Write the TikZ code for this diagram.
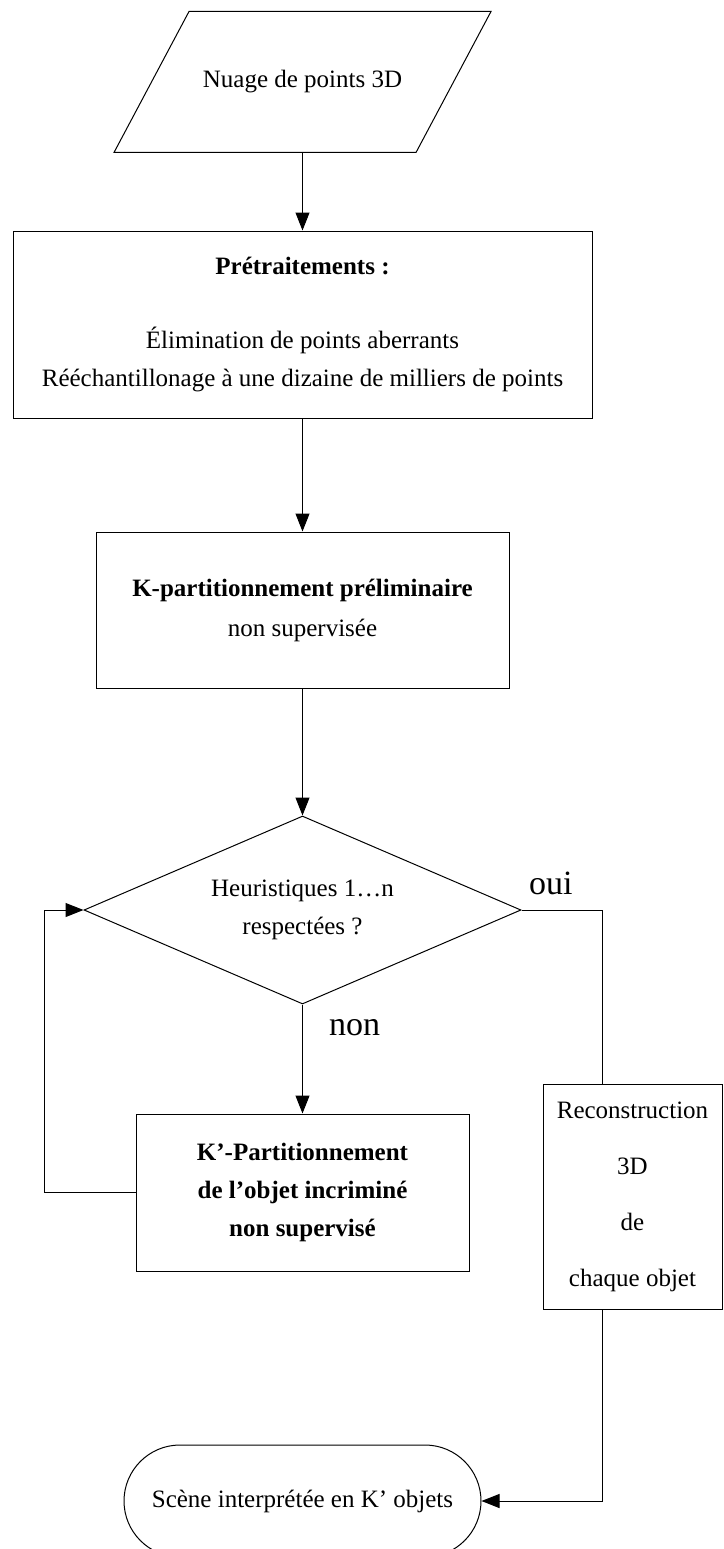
\documentclass[tikz,border=0pt]{standalone}
\usepackage{fontspec}
\setmainfont{Liberation Serif}
\usepackage{tikz}
\usetikzlibrary{shapes.geometric, arrows.meta, positioning, calc}

\begin{document}
\begin{tikzpicture}[
    line width=1pt,
    every node/.style={font=\fontsize{25pt}{38pt}\selectfont, inner sep=0pt},
    boite/.style={rectangle, draw, align=center},
    entree/.style={rectangle, minimum width=301pt, minimum height=140pt},
    test/.style={diamond, draw, align=center, aspect=2.32, minimum width=437pt, minimum height=188pt},
    terminal/.style={rectangle, draw, rounded corners=56pt, minimum width=357pt, minimum height=112pt},
    etiquette/.style={font=\fontsize{34pt}{40pt}\selectfont},
    fleche/.style={-{Triangle[width=14pt,length=18pt]}}
]
\useasboundingbox[fill=white] (0,0) rectangle (723pt,-1549pt);

\node[entree] (nuage) at (302.5pt,-82pt) {Nuage de points 3D};
% parallelogram round the input node
\draw ([xshift=37.5pt]nuage.north west) -- ([xshift=37.5pt]nuage.north east)
   -- ([xshift=-37.5pt]nuage.south east) -- ([xshift=-37.5pt]nuage.south west) -- cycle;
\node[boite, minimum width=579pt, minimum height=187pt, below=78pt of nuage] (pretrait)
    {\textbf{Prétraitements :}\\[36pt]
     Élimination de points aberrants\\
     Rééchantillonage à une dizaine de milliers de points};
\node[boite, minimum width=413pt, minimum height=156pt, below=113pt of pretrait] (kpart)
    {\textbf{K-partitionnement préliminaire}\\[2pt] non supervisée};
\node[test, below=127pt of kpart] (decision) {Heuristiques 1…n\\ respectées ?};
\node[boite, font=\fontsize{25pt}{38pt}\selectfont\bfseries, minimum width=333pt, minimum height=157pt, below=109pt of decision] (kprime)
    {K’-Partitionnement\\ de l’objet incriminé\\ non supervisé};

\coordinate[right=81pt of decision.east] (coude);
\node[boite, font=\fontsize{25pt}{56pt}\selectfont, minimum width=179pt, minimum height=225pt, below=174pt of coude, xshift=30pt] (recon)
    {Reconstruction\\ 3D\\ de\\ chaque objet};
\node[terminal, below=173pt of kprime] (fin) {Scène interprétée en K’ objets};

% labels
\node[etiquette, anchor=base west] (oui) at ([xshift=7pt, yshift=16pt]decision.east) {oui};
\node[etiquette, anchor=base west] (non) at ([xshift=26pt, yshift=-31pt]decision.south) {non};

\draw[fleche] (nuage) -- (pretrait);
\draw[fleche] (pretrait) -- (kpart);
\draw[fleche] (kpart) -- (decision);
\draw[fleche] (decision) -- (kprime);
\draw[fleche] (kprime.west) -- ++(-91pt,0) |- (decision.west);
\draw (decision.east) -- (coude) -- (coude |- recon.north);
\draw[fleche] (coude |- recon.south) |- (fin.east);

\end{tikzpicture}
\end{document}
